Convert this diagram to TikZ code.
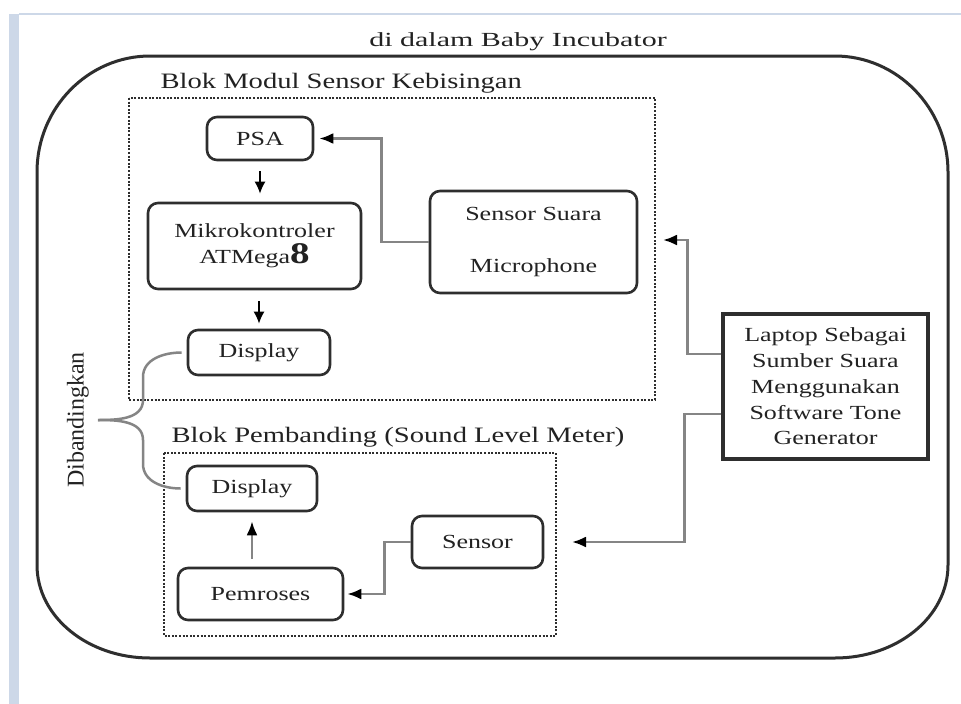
\documentclass[tikz,border=0pt]{standalone}
\usepackage{fontspec}
\setmainfont{Liberation Serif}
\newfontfamily\boxfont[FakeStretch=1.3]{Liberation Serif}
\newfontfamily\titlefont[FakeStretch=1.5]{Liberation Serif}
\usetikzlibrary{arrows.meta}

\definecolor{edge}{HTML}{2E2E2E}
\definecolor{wire}{HTML}{858585}
\definecolor{txt}{HTML}{222222}
\definecolor{frameblue}{HTML}{CDD8E8}

\tikzset{
  blok/.style={draw=edge, line width=2.6pt, rounded corners=10pt, inner sep=0pt,
    align=center, text=txt, font=\boxfont\fontsize{20}{26}\selectfont},
  sumber/.style={blok, rounded corners=0pt, line width=3.2pt,
    font=\boxfont\fontsize{20}{25.7}\selectfont},
  kawat/.style={draw=wire, line width=2.5pt, -{Latex[length=14pt,width=11pt,color=black]}},
  panah/.style={draw=black, line width=1.8pt, -{Latex[length=12pt,width=11pt]}},
  braket/.style={draw=wire, line width=2.5pt},
  titik/.style={draw=edge, line width=2pt, dash pattern=on 2pt off 1.6pt},
  judul/.style={anchor=base west, text=txt, font=\boxfont\fontsize{22}{26}\selectfont},
}

\begin{document}
\begin{tikzpicture}[x=1pt, y=-1pt]
        \useasboundingbox [fill=white] (0, 0) rectangle (961, 704);
        \fill [frameblue] (9, 14) rectangle (19, 704);
        \draw [frameblue, line width=1.5pt] (19, 14) -- (961, 14);

        \node [anchor=base, text=txt, font=\titlefont\fontsize{20}{24}\selectfont] (judul) at (518, 46) {di dalam Baby Incubator};

        % incubator wall
        \draw [draw=edge, line width=3pt] (150, 56) -- (835, 56)
          .. controls (897, 56) and (948, 108) .. (948, 172) -- (948, 565)
          .. controls (948, 617) and (897, 658) .. (835, 658) -- (150, 658)
          .. controls (88, 658) and (37, 617) .. (37, 565) -- (37, 172)
          .. controls (37, 108) and (88, 56) .. (150, 56) -- cycle;

        \node [judul] (blok1) at (157, 88) {Blok Modul Sensor Kebisingan};
        \draw [titik] (129, 98) rectangle (655, 400);

        \node [blok, minimum width=106pt, minimum height=43pt] (psa) at (260, 138.5) {PSA};
        \node [blok, minimum width=213pt, minimum height=86pt] (mikro) at (254.5, 246) {Mikrokontroler\\ATMega{\fontsize{30}{26}\selectfont\bfseries 8}};
        \node [blok, minimum width=142pt, minimum height=45pt] (disp1) at (259, 352.5) {Display};
        \node [blok, minimum width=207pt, minimum height=102pt] (suara) at (533.5, 242) {Sensor Suara\\[26pt]Microphone};

        \node [sumber, minimum width=205pt, minimum height=145pt] (laptop) at (825.5, 386.5) {Laptop Sebagai\\Sumber Suara\\Menggunakan\\Software Tone\\Generator};

        \node [judul] (blok2) at (168, 442) {Blok Pembanding (Sound Level Meter)};
        \draw [titik] (164, 453) rectangle (556, 636);

        \node [blok, minimum width=130pt, minimum height=45pt] (disp2) at (252, 488.5) {Display};
        \node [blok, minimum width=165pt, minimum height=52pt] (proses) at (260.5, 594) {Pemroses};
        \node [blok, minimum width=131pt, minimum height=52pt] (sensor) at (477.5, 542) {Sensor};

        \node [rotate=90, text=txt, font=\fontsize{24}{24}\selectfont] (banding) at (78, 420) {Dibandingkan};

        \coordinate (mictip) at (663, 240);
        \coordinate (sensortip) at (572, 542);
        \coordinate (cabang) at (98, 420);

        \draw [panah] ([yshift=-10pt]psa.south) -- ([yshift=8pt]psa.south |- mikro.north);
        \draw [panah] ([yshift=-11pt]disp1.north |- mikro.south) -- ([yshift=5pt]disp1.north);
        \draw [kawat] (suara.west) -- ++(-47, 0) |- ([xshift=5pt]psa.east);
        \draw [kawat] ([yshift=32.5pt]laptop.west) -- ++(-34, 0) |- (mictip);
        \draw [kawat] ([yshift=-27.5pt]laptop.west) -- ++(-37, 0) |- (sensortip);
        \draw [kawat] (sensor.west) -- ++(-26, 0) |- ([xshift=3pt]proses.east);
        \draw [kawat] ([yshift=8pt]proses.north -| disp2) -- ([yshift=-9pt]disp2.south);

        \draw [braket] ([xshift=-5pt]disp1.west) to[out=180, in=90] (143, 377) -- (143, 400) to[out=-90, in=0] (cabang);
        \draw [braket] (cabang) to[out=0, in=90] (143, 440) -- (143, 464) to[out=-90, in=180] ([xshift=-5pt]disp2.west);
\end{tikzpicture}
\end{document}
